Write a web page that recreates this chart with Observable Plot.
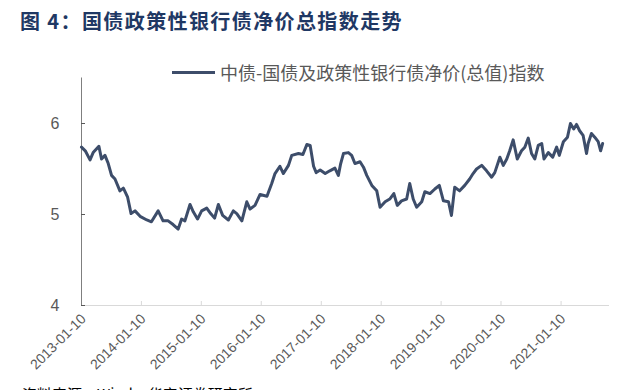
<!DOCTYPE html>
<html><head><meta charset="utf-8">
<script src="https://cdn.jsdelivr.net/npm/d3@7"></script>
<script src="https://cdn.jsdelivr.net/npm/@observablehq/plot@0.6"></script>
<style>
body{margin:0;background:#fff;font-family:"Noto Sans CJK SC","Noto Sans",sans-serif;}
#wrap{position:relative;width:640px;height:390px;overflow:hidden;}
#chart{position:absolute;left:0;top:0;}
#title{position:absolute;left:20px;top:6px;font-size:20px;font-weight:bold;color:#1f3864;letter-spacing:1.4px;white-space:nowrap;}
#legend{position:absolute;left:172px;top:59px;display:flex;align-items:center;font-size:18px;color:#595959;white-space:nowrap;}
#legend .sw{width:43px;height:3px;background:#3d4d6a;margin-right:5px;}
#source{position:absolute;left:22px;top:383px;font-size:15px;color:#000;white-space:nowrap;}
</style></head><body>
<div id="wrap">
<div id="chart"></div>
<div id="title">图 4：国债政策性银行债净价总指数走势</div>
<div id="legend"><span class="sw"></span><span>中债-国债及政策性银行债净价(总值)指数</span></div>
<div id="source">资料来源：Wind，华安证券研究所</div>
</div>
<script>
const dates = ["2013-01-10","2013-02-02","2013-03-03","2013-03-22","2013-04-26","2013-05-12","2013-06-02","2013-06-22","2013-07-12","2013-08-02","2013-09-01","2013-09-22","2013-10-18","2013-11-08","2013-12-02","2014-01-02","2014-02-12","2014-03-12","2014-04-22","2014-05-22","2014-06-22","2014-07-22","2014-08-22","2014-09-12","2014-10-02","2014-11-02","2014-11-22","2014-12-18","2015-01-12","2015-02-12","2015-03-08","2015-04-01","2015-04-24","2015-05-20","2015-06-24","2015-07-24","2015-08-14","2015-09-14","2015-10-14","2015-11-03","2015-12-03","2016-01-03","2016-02-14","2016-03-14","2016-04-03","2016-05-03","2016-05-24","2016-06-24","2016-07-14","2016-08-24","2016-09-20","2016-10-14","2016-11-03","2016-11-24","2016-12-10","2017-01-03","2017-02-03","2017-03-03","2017-04-03","2017-04-24","2017-05-07","2017-05-25","2017-06-24","2017-07-14","2017-08-03","2017-09-03","2017-09-24","2017-10-14","2017-11-14","2017-12-14","2018-01-03","2018-02-03","2018-03-03","2018-03-28","2018-04-18","2018-05-14","2018-06-14","2018-07-03","2018-07-24","2018-08-14","2018-09-14","2018-10-03","2018-11-03","2018-12-03","2018-12-30","2019-01-24","2019-02-24","2019-03-14","2019-04-03","2019-05-03","2019-06-03","2019-07-03","2019-07-24","2019-08-14","2019-09-14","2019-10-14","2019-11-14","2019-12-03","2020-01-03","2020-01-24","2020-02-14","2020-03-03","2020-03-24","2020-04-18","2020-05-14","2020-06-03","2020-06-24","2020-07-14","2020-08-03","2020-08-24","2020-09-14","2020-09-28","2020-10-24","2020-11-20","2020-12-14","2020-12-30","2021-01-24","2021-02-18","2021-03-08","2021-03-28","2021-04-14","2021-05-03","2021-05-24","2021-06-14","2021-06-24","2021-07-14","2021-08-03","2021-08-24","2021-09-08","2021-09-20"];
const values = [5.74,5.70,5.60,5.68,5.75,5.61,5.65,5.56,5.43,5.39,5.26,5.29,5.19,5.01,5.04,4.98,4.94,4.92,5.04,4.93,4.93,4.89,4.84,4.95,4.93,5.11,5.03,4.95,5.04,5.07,5.01,4.96,5.11,4.99,4.94,5.04,5.01,4.93,5.14,5.06,5.10,5.22,5.20,5.34,5.45,5.53,5.45,5.54,5.65,5.67,5.66,5.77,5.76,5.53,5.46,5.49,5.45,5.48,5.51,5.43,5.55,5.67,5.68,5.65,5.56,5.58,5.52,5.43,5.32,5.26,5.08,5.14,5.17,5.23,5.10,5.15,5.17,5.34,5.17,5.08,5.14,5.25,5.23,5.28,5.32,5.15,5.14,4.99,5.30,5.26,5.32,5.39,5.45,5.50,5.54,5.48,5.41,5.46,5.63,5.54,5.61,5.70,5.82,5.61,5.70,5.74,5.84,5.67,5.61,5.76,5.78,5.61,5.68,5.63,5.74,5.65,5.80,5.85,6.00,5.94,5.99,5.92,5.87,5.67,5.78,5.89,5.85,5.80,5.70,5.78];
const xTickLabels = ["2013-01-10","2014-01-10","2015-01-10","2016-01-10","2017-01-10","2018-01-10","2019-01-10","2020-01-10","2021-01-10"];
const yTicks = [4,5,6];
const xStart = "2013-01-10", xEnd = "2021-11-01";
const yDomain = [4, 6.5];

const parse = d3.utcParse("%Y-%m-%d");
const fmt = d3.utcFormat("%Y-%m-%d");
const data = dates.map((d,i)=>({date: parse(d), value: values[i]}));
const xTicks = xTickLabels.map(parse);

const chart = Plot.plot({
  width: 640, height: 390,
  marginLeft: 81, marginRight: 31, marginTop: 77.5, marginBottom: 85,
  style: {fontFamily: '"Liberation Sans", Arial, sans-serif', color: "#595959", background: "transparent"},
  x: {type: "utc", domain: [parse(xStart), parse(xEnd)]},
  y: {domain: yDomain},
  marks: [
    Plot.ruleY([yDomain[0]], {stroke: "#d9d9d9", strokeWidth: 1}),
    Plot.axisX({ticks: xTicks, tickSize: -4, stroke: "#d9d9d9", tickFormat: () => "", label: null}),
    Plot.axisX({ticks: xTicks, tickSize: 0, tickPadding: 11, tickRotate: -45, tickFormat: fmt, fontSize: 14, fill: "#595959", label: null, dx: 2}),
    Plot.ruleX([parse(xStart)], {y1: yDomain[0], y2: yDomain[1], stroke: "#7f7f7f", strokeWidth: 1}),
    Plot.axisY({ticks: yTicks, tickSize: -4, stroke: "#595959", tickFormat: () => "", label: null}),
    Plot.axisY({ticks: yTicks, tickSize: 0, tickPadding: 22, fontSize: 16, tickFormat: d3.format("d"), fill: "#595959", label: null}),
    Plot.lineY(data, {x: "date", y: "value", stroke: "#3d4d6a", strokeWidth: 3, strokeLinejoin: "round"})
  ]
});
document.getElementById("chart").appendChild(chart);
</script>
</body></html>
